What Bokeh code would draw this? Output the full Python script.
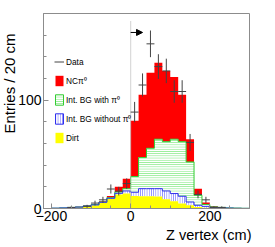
from bokeh.plotting import figure
from bokeh.models import (Range1d, FixedTicker, Legend, LegendItem, Title,
                          Arrow, NormalHead)
from bokeh.embed import file_html
from bokeh.resources import INLINE

# ---------------- data ----------------
bin_edges = [-220, -200, -180, -160, -140, -120, -100, -80, -60, -40, -20, 0, 20,
             40, 60, 80, 100, 120, 140, 160, 180, 200, 220, 240, 260, 280, 300]

dirt = [0, 0.3, 0.5, 0.8, 1.2, 2.0, 3.0, 5.3, 8.8, 13.0, 13.8, 11.5, 11.3,
        11.3, 11.0, 8.5, 6.7, 4.6, 3.0, 1.5, 0.8, 0.4, 0.3, 0.2, 0.1, 0.1]
bg_without_pi0 = [0, 0, 0, 0.1, 0.1, 0.2, 0.3, 0.4, 0.6, 1.0, 2.4, 3.5, 7.0,
                  7.0, 7.3, 7.7, 7.1, 6.7, 3.0, 1.5, 1.2, 0.6, 0.3, 0.2, 0.1, 0]
bg_with_pi0 = [0, 0, 0.1, 0.1, 0.1, 0.2, 0.3, 0.3, 0.6, 1.2, 2.1, 14.5, 28.7,
               37.3, 45.7, 45.5, 50.2, 50.4, 37.0, 9.2, 1.7, 0.5, 0.4, 0.2, 0.2, 0.1]
nc_pi0 = [0, 0.1, 0.1, 0.1, 0.2, 0.3, 0.4, 0.7, 1.5, 4.8, 9.2, 51.5, 58.0,
          69.7, 70.5, 65.3, 57.4, 43.3, 21.0, 6.1, 1.8, 0.5, 0.3, 0.2, 0.1, 0.1]

data_x = [-150, -110, -90, -70, -50, -30, -10, 10, 30, 50, 70, 90, 110, 130,
          150, 170, 190, 210, 230]
data_y = [1, 2, 5, 8, 18, 16, 23, 89, 114, 152, 131, 127, 108, 108, 61, 13, 8, 1, 1]
data_err = [1, 1.4, 2.2, 2.8, 4.2, 4.0, 4.8, 9.4, 10.7, 12.3, 11.4, 11.3, 10.4,
            10.4, 7.8, 3.6, 2.8, 1, 1]
bin_half = 10

x_ticks = [-200, 0, 200]
x_minor = [-200, -150, -100, -50, 0, 50, 100, 150, 200, 250, 300]
y_ticks = [0, 100]
y_minor = [0, 20, 40, 60, 80, 100, 120, 140, 160, 180]

cut_x = 0
cut_top = 173
arrow_y = 162.5
arrow_len = 30

labels = ["Data", "NC\u03c0\u2070", "Int. BG with \u03c0\u2070",
          "Int. BG without \u03c0\u2070", "Dirt"]
x_title = "Z vertex (cm)"
y_title = "Entries / 20 cm"

# ---------------- stacking ----------------
def cumsum(*arrs):
    return [sum(v) for v in zip(*arrs)]

c1 = list(dirt)
c2 = cumsum(dirt, bg_without_pi0)
c3 = cumsum(dirt, bg_without_pi0, bg_with_pi0)
c4 = cumsum(dirt, bg_without_pi0, bg_with_pi0, nc_pi0)
ext = lambda a: list(a) + [a[-1]]
zero = [0.0] * len(bin_edges)

FONT = "Liberation Sans"
GREEN_L = "#7ae87a"
GREEN_O = "#33cc33"
BLUE_L = "#7070ff"
BLUE_O = "#3030ee"
HS = 2.2

p = figure(width=275, height=247, x_range=Range1d(-220, 300), y_range=Range1d(0, 180),
           output_backend="svg", toolbar_location=None,
           min_border_left=43, min_border_right=26, min_border_top=13, min_border_bottom=39)
p.xgrid.visible = False
p.ygrid.visible = False
p.outline_line_color = "#8c8c8c"
p.outline_line_width = 1

# stacked histogram as step areas
p.varea_step(x=bin_edges, y1=ext(c3), y2=ext(c4), step_mode="after", fill_color="#ff0000")
p.varea_step(x=bin_edges, y1=ext(c2), y2=ext(c3), step_mode="after", fill_color="white",
             hatch_pattern="horizontal_line", hatch_color=GREEN_L, hatch_scale=HS, hatch_weight=1)
p.varea_step(x=bin_edges, y1=ext(c1), y2=ext(c2), step_mode="after", fill_color="white",
             hatch_pattern="vertical_line", hatch_color=BLUE_L, hatch_scale=HS, hatch_weight=1)
p.varea_step(x=bin_edges, y1=zero, y2=ext(c1), step_mode="after", fill_color="#ffff00")
p.step(x=bin_edges, y=ext(c3), mode="after", line_color=GREEN_O, line_width=1)
p.step(x=bin_edges, y=ext(c2), mode="after", line_color=BLUE_O, line_width=1)

# cut line and arrow
p.segment(x0=[cut_x], y0=[0], x1=[cut_x], y1=[cut_top], line_color="#b4b4b4",
          line_dash="1 1", line_width=1.2)
p.add_layout(Arrow(end=NormalHead(size=6, fill_color="black", line_color="black"),
                   x_start=cut_x, y_start=arrow_y, x_end=cut_x + arrow_len, y_end=arrow_y,
                   line_color="black", line_width=1))

# data crosses
hseg = p.segment(x0=[x - bin_half for x in data_x], y0=data_y,
                 x1=[x + bin_half for x in data_x], y1=data_y,
                 line_color="#444444", line_width=1)
p.segment(x0=data_x, y0=[y - e for y, e in zip(data_y, data_err)],
          x1=data_x, y1=[y + e for y, e in zip(data_y, data_err)],
          line_color="#444444", line_width=1)

# legend proxies (hidden, one degenerate entry so the legend draws their swatch)
e0 = [bin_edges[0]]
z0 = [0]
r_red = p.quad(left=e0, right=e0, bottom=z0, top=z0, fill_color="#ff0000", line_color=None,
               visible=False)
r_green = p.quad(left=e0, right=e0, bottom=z0, top=z0, fill_color="white", line_color=GREEN_O,
                 hatch_pattern="horizontal_line", hatch_color=GREEN_L, hatch_scale=HS,
                 visible=False)
r_blue = p.quad(left=e0, right=e0, bottom=z0, top=z0, fill_color="white", line_color=BLUE_O,
                hatch_pattern="vertical_line", hatch_color=BLUE_L, hatch_scale=HS,
                visible=False)
r_yel = p.quad(left=e0, right=e0, bottom=z0, top=z0, fill_color="#ffff00", line_color=None,
               visible=False)

legend = Legend(items=[LegendItem(label=labels[0], renderers=[hseg]),
                       LegendItem(label=labels[1], renderers=[r_red]),
                       LegendItem(label=labels[2], renderers=[r_green]),
                       LegendItem(label=labels[3], renderers=[r_blue]),
                       LegendItem(label=labels[4], renderers=[r_yel])],
                location=(11, 64), padding=0, margin=0, spacing=6,
                glyph_width=10, glyph_height=13, label_height=13, label_standoff=2,
                label_text_font=FONT, label_text_font_size="8.3px", label_text_color="black",
                border_line_color=None, background_fill_alpha=0,
                inactive_fill_alpha=0, click_policy="none")
p.add_layout(legend)

# axes
for ax in (p.xaxis[0], p.yaxis[0]):
    ax.axis_line_color = "#8c8c8c"
    ax.major_tick_line_color = "#8c8c8c"
    ax.minor_tick_line_color = "#8c8c8c"
    ax.major_tick_in = 5
    ax.major_tick_out = 0
    ax.minor_tick_in = 3
    ax.minor_tick_out = 0
    ax.major_label_text_font = FONT
    ax.major_label_text_font_size = "14px"
    ax.major_label_text_color = "black"
p.xaxis.ticker = FixedTicker(ticks=x_ticks, minor_ticks=x_minor)
p.yaxis.ticker = FixedTicker(ticks=y_ticks, minor_ticks=y_minor)
p.xaxis.major_label_standoff = 2
p.yaxis.major_label_standoff = 2

# axis titles as panel titles (aligned to the far end of each axis)
p.add_layout(Title(text=y_title, align="right", offset=20, standoff=-4,
                   text_font=FONT, text_font_size="15px", text_font_style="normal",
                   text_color="black"), "left")
p.add_layout(Title(text=x_title, align="right", offset=-2, standoff=2,
                   text_font=FONT, text_font_size="14.5px", text_font_style="normal",
                   text_color="black"), "below")

open("out.html", "w").write(file_html(p, INLINE))
